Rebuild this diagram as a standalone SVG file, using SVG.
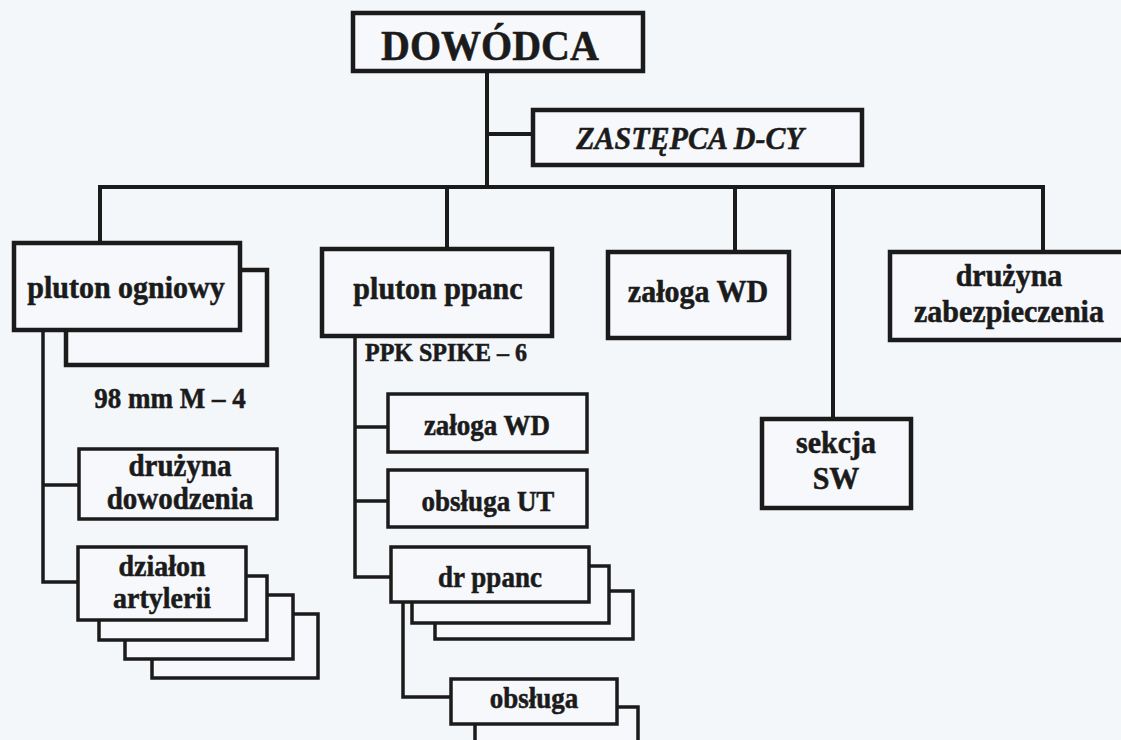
<svg xmlns="http://www.w3.org/2000/svg" width="1121" height="740" viewBox="0 0 1121 740">
<style>
.bg{fill:#f4f7fa}
.box{fill:#f6f8fb;stroke:#1b1b1b;stroke-width:4.5}
.sub{fill:#f6f8fb;stroke:#1b1b1b;stroke-width:3.5}
.ln{fill:none;stroke:#1b1b1b;stroke-width:4;stroke-linecap:square}
.lt{fill:none;stroke:#1b1b1b;stroke-width:3.5;stroke-linecap:square}
text{font-family:"Liberation Serif","Times New Roman",serif;font-weight:bold;fill:#1b1b1b;stroke:#1b1b1b;stroke-width:0.5;text-anchor:middle;transform-box:fill-box;transform-origin:center;transform:scaleY(1.08)}
.t40{font-size:40px}
.t30{font-size:30px}
.t29{font-size:29px}
.t28{font-size:28px}
.t27{font-size:27px}
.it{font-style:italic;font-size:30px}
</style>
<rect class="bg" x="0" y="0" width="1121" height="740"/>
<g id="connectors">
<path class="ln" d="M487,71 V187 M487,134 H533 M100,187 H1043 M100,187 V243 M447,187 V249 M735,187 V252 M833,187 V419 M1043,187 V252"/>
<path class="lt" d="M43,330 V582 M43,485 H79 M43,582 H78"/>
<path class="lt" d="M355,336 V577 M355,427 H388 M355,501 H388 M355,577 H391"/>
<path class="lt" d="M403,602 V697 H451"/>
</g>
<g id="dowodca">
<rect class="box" x="353" y="13" width="290" height="58"/>
<text class="t40" x="490" y="59">DOWÓDCA</text>
</g>
<g id="zastepca">
<rect class="box" x="533" y="110" width="329" height="55"/>
<text class="it" x="690" y="148">ZASTĘPCA D-CY</text>
</g>
<g id="pluton-ogniowy">
<rect class="box" x="66" y="270" width="201" height="95"/>
<rect class="box" x="14" y="243" width="226" height="87"/>
<text class="t30" x="126" y="297">pluton ogniowy</text>
</g>
<g id="label-98mm">
<text class="t27" x="170" y="407">98 mm M – 4</text>
</g>
<g id="pluton-ppanc">
<rect class="box" x="322" y="249" width="230" height="87"/>
<text class="t30" x="438" y="298">pluton ppanc</text>
</g>
<g id="label-ppk">
<text style="font-size:24px;text-anchor:start" x="365" y="360">PPK SPIKE – 6</text>
</g>
<g id="zaloga-wd">
<rect class="box" x="608" y="252" width="181" height="86"/>
<text class="t30" x="698" y="301">załoga WD</text>
</g>
<g id="druzyna-zabezpieczenia">
<rect class="box" x="890" y="252" width="236" height="88"/>
<text class="t30" x="1009" y="285">drużyna</text>
<text class="t30" x="1009" y="321">zabezpieczenia</text>
</g>
<g id="sekcja-sw">
<rect class="box" x="762" y="419" width="149" height="89"/>
<text class="t30" x="836" y="452">sekcja</text>
<text class="t30" x="836" y="488">SW</text>
</g>
<g id="druzyna-dowodzenia">
<rect class="sub" x="79" y="449" width="198" height="70"/>
<text class="t29" x="180" y="475">drużyna</text>
<text class="t29" x="180" y="508">dowodzenia</text>
</g>
<g id="dzialon-artylerii">
<rect class="sub" x="152" y="614" width="166" height="64"/>
<rect class="sub" x="125" y="595" width="168" height="64"/>
<rect class="sub" x="99" y="576" width="168" height="64"/>
<rect class="sub" x="78" y="547" width="168" height="73"/>
<text class="t28" x="162" y="575">działon</text>
<text class="t28" x="162" y="607">artylerii</text>
</g>
<g id="zaloga-wd-sub">
<rect class="sub" x="388" y="394" width="199" height="58"/>
<text class="t27" x="487" y="434">załoga WD</text>
</g>
<g id="obsluga-ut">
<rect class="sub" x="388" y="470" width="199" height="57"/>
<text class="t27" x="488" y="510">obsługa UT</text>
</g>
<g id="dr-ppanc">
<rect class="sub" x="435" y="591" width="198" height="48"/>
<rect class="sub" x="412" y="566" width="197" height="57"/>
<rect class="sub" x="391" y="547" width="198" height="55"/>
<text class="t27" x="490" y="586">dr ppanc</text>
</g>
<g id="obsluga">
<rect class="sub" x="475" y="707" width="163" height="53"/>
<rect class="sub" x="451" y="679" width="166" height="45"/>
<text class="t27" x="534" y="707">obsługa</text>
</g>
</svg>
